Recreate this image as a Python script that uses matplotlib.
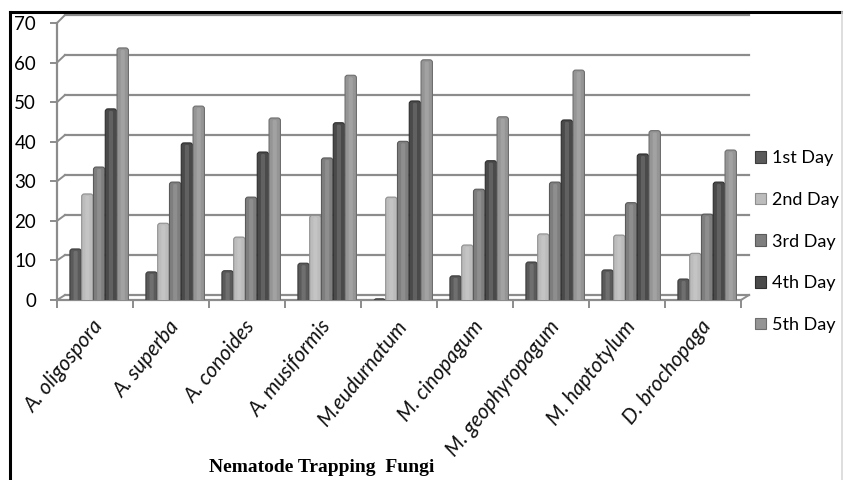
import matplotlib
matplotlib.use("Agg")
import matplotlib.pyplot as plt
from matplotlib.patches import FancyBboxPatch, Rectangle
from matplotlib.lines import Line2D

# Days of exposure (series) and fungal species (categories)
days = ["1st Day", "2nd Day", "3rd Day", "4th Day", "5th Day"]
fungi = ["A. oligospora", "A. superba", "A. conoides", "A. musiformis",
         "M.eudurnatum", "M. cinopagum", "M. geophyropagum",
         "M. haptotylum", "D. brochopaga"]

day1 = [12.9, 7.1, 7.4, 9.3, 0.3, 6.1, 9.6, 7.6, 5.3]
day2 = [26.8, 19.4, 15.9, 21.4, 26.0, 13.9, 16.7, 16.4, 11.8]
day3 = [33.6, 29.8, 26.0, 35.9, 40.1, 28.0, 29.8, 24.6, 21.7]
day4 = [48.3, 39.7, 37.4, 44.8, 50.3, 35.2, 45.5, 36.9, 29.8]
day5 = [63.7, 49.0, 46.0, 56.8, 60.7, 46.3, 58.1, 42.8, 37.9]
series = [day1, day2, day3, day4, day5]

yticks = [0, 10, 20, 30, 40, 50, 60, 70]

colors = ["#5a5a5a", "#bcbcbc", "#7e7e7e", "#4a4a4a", "#959595"]
edges = ["#3c3c3c", "#8e8e8e", "#5a5a5a", "#2e2e2e", "#6e6e6e"]
grid_c = "#8c8c8c"

W, H, DPI = 843, 480, 100
fig = plt.figure(figsize=(W / DPI, H / DPI), dpi=DPI)
fig.patch.set_facecolor("white")

# plot area in pixels: x 57..741, y 23..300 (from top)
ax = fig.add_axes([57 / W, (H - 300) / H, 684 / W, 277 / H])
ax.set_xlim(-0.5, len(fungi) - 0.5)
ax.set_ylim(0, 70)
for s in ax.spines.values():
    s.set_visible(False)
ax.set_facecolor("none")

px_x = len(fungi) / 684.0      # data units per pixel, x
px_y = 70 / 277.0              # data units per pixel, y
dx = 8 * px_x                  # depth offset of back wall, x


def back(v):
    # value level on the back wall (slightly larger scale, raised 5 px)
    return (5 + 4 * v) * px_y


# back-wall gridlines with a short depth connector at the left side
x0, x1 = -0.5, len(fungi) - 0.5
for v in yticks:
    ax.add_line(Line2D([x0 + dx, x1 + dx], [back(v), back(v)], color=grid_c,
                       lw=1.6, clip_on=False, zorder=1))
    ax.add_line(Line2D([x0, x0 + dx], [v, back(v)], color=grid_c,
                       lw=1.4, clip_on=False, zorder=1))
# floor front edge and right depth edge
ax.add_line(Line2D([x0, x1], [0, 0], color=grid_c, lw=1.6, clip_on=False, zorder=3))
ax.add_line(Line2D([x1, x1 + dx], [0, back(0)], color=grid_c, lw=1.4,
                   clip_on=False, zorder=3))
# vertical value axis
ax.add_line(Line2D([x0, x0], [0, 70], color=grid_c, lw=1.6, clip_on=False, zorder=3))

# bars with rounded tops and a soft highlight band
step = 0.155
bw = 0.15
shift = 0.055
aspect = px_y / px_x
for j, vals in enumerate(series):
    for i, v in enumerate(vals):
        xc = i + shift + (j - 2) * step
        p = FancyBboxPatch((xc - bw / 2, -1.5), bw, v + 1.5,
                           boxstyle="round,pad=0,rounding_size=0.035",
                           mutation_aspect=aspect,
                           facecolor=colors[j], edgecolor=edges[j], lw=0.8,
                           zorder=4)
        ax.add_patch(p)
        hl = FancyBboxPatch((xc - bw * 0.18, -1.5), bw * 0.36, max(v + 1.0, 0.1),
                            boxstyle="round,pad=0,rounding_size=0.02",
                            mutation_aspect=aspect,
                            facecolor="white", edgecolor="none", alpha=0.13,
                            zorder=5)
        ax.add_patch(hl)

# ticks
ax.set_yticks(yticks)
ax.set_yticklabels([str(t) for t in yticks], fontsize=13.5, family="Lato")
ax.tick_params(axis="y", length=5, width=1.4, color=grid_c, pad=10)
ax.set_xticks([i - 0.5 for i in range(len(fungi) + 1)])
ax.set_xticklabels([])
ax.tick_params(axis="x", length=6, width=1.4, color=grid_c, direction="out")

for i, name in enumerate(fungi):
    ax.text(i - 0.04, -4.2, name, rotation=51, rotation_mode="anchor",
            ha="right", va="top", fontsize=15, style="italic",
            family="Lato", color="#111111")

# legend
handles = [Rectangle((0, 0), 1, 1, facecolor=colors[j], edgecolor=edges[j], lw=0.8)
           for j in range(len(days))]
leg = fig.legend(handles, days, loc="center left",
                 bbox_to_anchor=(755 / W, (H - 241.5) / H),
                 bbox_transform=fig.transFigure, frameon=False,
                 prop={"family": "Lato", "size": 13},
                 handlelength=0.6, handleheight=0.6, handletextpad=0.35,
                 labelspacing=1.42, borderpad=0, borderaxespad=0)

# axis title
fig.text(322 / W, (H - 467) / H, "Nematode Trapping  Fungi", ha="center",
         va="center", fontsize=14, fontweight="bold", family="Liberation Serif")

# outer frame
fig.add_artist(Line2D([10 / W, 10 / W], [0, (H - 12) / H], color="black", lw=2.2,
                      transform=fig.transFigure))
fig.add_artist(Line2D([10 / W, 1], [(H - 12) / H, (H - 12) / H], color="black",
                      lw=2.2, transform=fig.transFigure))
fig.add_artist(Line2D([842 / W, 842 / W], [0, (H - 12) / H], color="#d8d8d8",
                      lw=1.2, transform=fig.transFigure))

fig.savefig("out.png", dpi=DPI)
